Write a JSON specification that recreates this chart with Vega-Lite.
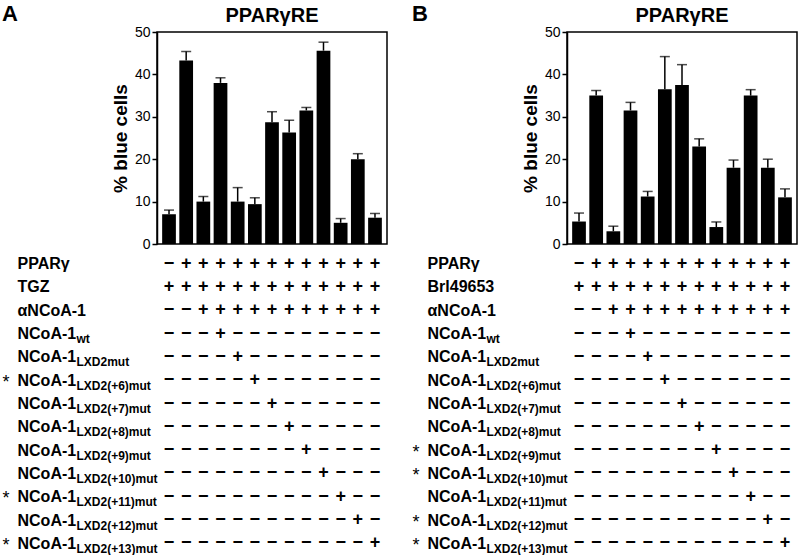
{
  "$schema": "https://vega.github.io/schema/vega-lite/v6.json",
  "background": "white",
  "padding": {"left": 2, "top": 3, "right": 2, "bottom": 0},
  "spacing": 24,
  "config": {"font": "Liberation Sans", "text": {"font": "Liberation Sans"}, "title": {"font": "Liberation Sans", "color": "black"}},
  "datasets": {
    "barsA": [
      {"lane": 1, "pct": 7, "hi": 8}, {"lane": 2, "pct": 43.3, "hi": 45.4}, {"lane": 3, "pct": 10, "hi": 11.2},
      {"lane": 4, "pct": 38, "hi": 39.2}, {"lane": 5, "pct": 10, "hi": 13.3}, {"lane": 6, "pct": 9.4, "hi": 10.9},
      {"lane": 7, "pct": 28.7, "hi": 31.2}, {"lane": 8, "pct": 26.3, "hi": 29.2}, {"lane": 9, "pct": 31.5, "hi": 32.2},
      {"lane": 10, "pct": 45.6, "hi": 47.6}, {"lane": 11, "pct": 5, "hi": 6}, {"lane": 12, "pct": 20, "hi": 21.3},
      {"lane": 13, "pct": 6.2, "hi": 7.2}
    ],
    "barsB": [
      {"lane": 1, "pct": 5.3, "hi": 7.3}, {"lane": 2, "pct": 35, "hi": 36.2}, {"lane": 3, "pct": 3, "hi": 4.2},
      {"lane": 4, "pct": 31.5, "hi": 33.4}, {"lane": 5, "pct": 11.2, "hi": 12.4}, {"lane": 6, "pct": 36.5, "hi": 44.2},
      {"lane": 7, "pct": 37.5, "hi": 42.3}, {"lane": 8, "pct": 23, "hi": 24.8}, {"lane": 9, "pct": 4, "hi": 5.2},
      {"lane": 10, "pct": 18, "hi": 19.8}, {"lane": 11, "pct": 35, "hi": 36.4}, {"lane": 12, "pct": 18, "hi": 20},
      {"lane": 13, "pct": 11, "hi": 13}
    ],
    "signs": [
      {"r":1,"c":1,"s":"−"},{"r":1,"c":2,"s":"+"},{"r":1,"c":3,"s":"+"},{"r":1,"c":4,"s":"+"},{"r":1,"c":5,"s":"+"},{"r":1,"c":6,"s":"+"},{"r":1,"c":7,"s":"+"},{"r":1,"c":8,"s":"+"},{"r":1,"c":9,"s":"+"},{"r":1,"c":10,"s":"+"},{"r":1,"c":11,"s":"+"},{"r":1,"c":12,"s":"+"},{"r":1,"c":13,"s":"+"},
      {"r":2,"c":1,"s":"+"},{"r":2,"c":2,"s":"+"},{"r":2,"c":3,"s":"+"},{"r":2,"c":4,"s":"+"},{"r":2,"c":5,"s":"+"},{"r":2,"c":6,"s":"+"},{"r":2,"c":7,"s":"+"},{"r":2,"c":8,"s":"+"},{"r":2,"c":9,"s":"+"},{"r":2,"c":10,"s":"+"},{"r":2,"c":11,"s":"+"},{"r":2,"c":12,"s":"+"},{"r":2,"c":13,"s":"+"},
      {"r":3,"c":1,"s":"−"},{"r":3,"c":2,"s":"−"},{"r":3,"c":3,"s":"+"},{"r":3,"c":4,"s":"+"},{"r":3,"c":5,"s":"+"},{"r":3,"c":6,"s":"+"},{"r":3,"c":7,"s":"+"},{"r":3,"c":8,"s":"+"},{"r":3,"c":9,"s":"+"},{"r":3,"c":10,"s":"+"},{"r":3,"c":11,"s":"+"},{"r":3,"c":12,"s":"+"},{"r":3,"c":13,"s":"+"},
      {"r":4,"c":1,"s":"−"},{"r":4,"c":2,"s":"−"},{"r":4,"c":3,"s":"−"},{"r":4,"c":4,"s":"+"},{"r":4,"c":5,"s":"−"},{"r":4,"c":6,"s":"−"},{"r":4,"c":7,"s":"−"},{"r":4,"c":8,"s":"−"},{"r":4,"c":9,"s":"−"},{"r":4,"c":10,"s":"−"},{"r":4,"c":11,"s":"−"},{"r":4,"c":12,"s":"−"},{"r":4,"c":13,"s":"−"},
      {"r":5,"c":1,"s":"−"},{"r":5,"c":2,"s":"−"},{"r":5,"c":3,"s":"−"},{"r":5,"c":4,"s":"−"},{"r":5,"c":5,"s":"+"},{"r":5,"c":6,"s":"−"},{"r":5,"c":7,"s":"−"},{"r":5,"c":8,"s":"−"},{"r":5,"c":9,"s":"−"},{"r":5,"c":10,"s":"−"},{"r":5,"c":11,"s":"−"},{"r":5,"c":12,"s":"−"},{"r":5,"c":13,"s":"−"},
      {"r":6,"c":1,"s":"−"},{"r":6,"c":2,"s":"−"},{"r":6,"c":3,"s":"−"},{"r":6,"c":4,"s":"−"},{"r":6,"c":5,"s":"−"},{"r":6,"c":6,"s":"+"},{"r":6,"c":7,"s":"−"},{"r":6,"c":8,"s":"−"},{"r":6,"c":9,"s":"−"},{"r":6,"c":10,"s":"−"},{"r":6,"c":11,"s":"−"},{"r":6,"c":12,"s":"−"},{"r":6,"c":13,"s":"−"},
      {"r":7,"c":1,"s":"−"},{"r":7,"c":2,"s":"−"},{"r":7,"c":3,"s":"−"},{"r":7,"c":4,"s":"−"},{"r":7,"c":5,"s":"−"},{"r":7,"c":6,"s":"−"},{"r":7,"c":7,"s":"+"},{"r":7,"c":8,"s":"−"},{"r":7,"c":9,"s":"−"},{"r":7,"c":10,"s":"−"},{"r":7,"c":11,"s":"−"},{"r":7,"c":12,"s":"−"},{"r":7,"c":13,"s":"−"},
      {"r":8,"c":1,"s":"−"},{"r":8,"c":2,"s":"−"},{"r":8,"c":3,"s":"−"},{"r":8,"c":4,"s":"−"},{"r":8,"c":5,"s":"−"},{"r":8,"c":6,"s":"−"},{"r":8,"c":7,"s":"−"},{"r":8,"c":8,"s":"+"},{"r":8,"c":9,"s":"−"},{"r":8,"c":10,"s":"−"},{"r":8,"c":11,"s":"−"},{"r":8,"c":12,"s":"−"},{"r":8,"c":13,"s":"−"},
      {"r":9,"c":1,"s":"−"},{"r":9,"c":2,"s":"−"},{"r":9,"c":3,"s":"−"},{"r":9,"c":4,"s":"−"},{"r":9,"c":5,"s":"−"},{"r":9,"c":6,"s":"−"},{"r":9,"c":7,"s":"−"},{"r":9,"c":8,"s":"−"},{"r":9,"c":9,"s":"+"},{"r":9,"c":10,"s":"−"},{"r":9,"c":11,"s":"−"},{"r":9,"c":12,"s":"−"},{"r":9,"c":13,"s":"−"},
      {"r":10,"c":1,"s":"−"},{"r":10,"c":2,"s":"−"},{"r":10,"c":3,"s":"−"},{"r":10,"c":4,"s":"−"},{"r":10,"c":5,"s":"−"},{"r":10,"c":6,"s":"−"},{"r":10,"c":7,"s":"−"},{"r":10,"c":8,"s":"−"},{"r":10,"c":9,"s":"−"},{"r":10,"c":10,"s":"+"},{"r":10,"c":11,"s":"−"},{"r":10,"c":12,"s":"−"},{"r":10,"c":13,"s":"−"},
      {"r":11,"c":1,"s":"−"},{"r":11,"c":2,"s":"−"},{"r":11,"c":3,"s":"−"},{"r":11,"c":4,"s":"−"},{"r":11,"c":5,"s":"−"},{"r":11,"c":6,"s":"−"},{"r":11,"c":7,"s":"−"},{"r":11,"c":8,"s":"−"},{"r":11,"c":9,"s":"−"},{"r":11,"c":10,"s":"−"},{"r":11,"c":11,"s":"+"},{"r":11,"c":12,"s":"−"},{"r":11,"c":13,"s":"−"},
      {"r":12,"c":1,"s":"−"},{"r":12,"c":2,"s":"−"},{"r":12,"c":3,"s":"−"},{"r":12,"c":4,"s":"−"},{"r":12,"c":5,"s":"−"},{"r":12,"c":6,"s":"−"},{"r":12,"c":7,"s":"−"},{"r":12,"c":8,"s":"−"},{"r":12,"c":9,"s":"−"},{"r":12,"c":10,"s":"−"},{"r":12,"c":11,"s":"−"},{"r":12,"c":12,"s":"+"},{"r":12,"c":13,"s":"−"},
      {"r":13,"c":1,"s":"−"},{"r":13,"c":2,"s":"−"},{"r":13,"c":3,"s":"−"},{"r":13,"c":4,"s":"−"},{"r":13,"c":5,"s":"−"},{"r":13,"c":6,"s":"−"},{"r":13,"c":7,"s":"−"},{"r":13,"c":8,"s":"−"},{"r":13,"c":9,"s":"−"},{"r":13,"c":10,"s":"−"},{"r":13,"c":11,"s":"−"},{"r":13,"c":12,"s":"−"},{"r":13,"c":13,"s":"+"}
    ]
  },
  "hconcat": [
    {
      "title": {"text": "A", "anchor": "start", "fontSize": 22, "fontWeight": "bold", "offset": -21, "color": "black"},
      "spacing": 8,
      "bounds": "flush",
      "vconcat": [
        {
          "width": 230, "height": 212,
          "title": {"text": "PPARγRE", "fontSize": 20, "fontWeight": "bold", "anchor": "middle", "offset": -1, "color": "black"},
          "view": {"stroke": "black", "strokeWidth": 1.5},
          "data": {"name": "barsA"},
          "encoding": {"x": {"field": "lane", "type": "ordinal", "axis": null, "scale": {"paddingInner": 0.2, "paddingOuter": 0.3}}},
          "layer": [
            {"mark": {"type": "bar", "color": "black"},
             "encoding": {"y": {"field": "pct", "type": "quantitative", "scale": {"domain": [0, 50]},
               "axis": {"title": "% blue cells", "titleFontSize": 19, "titleFontWeight": "bold", "titlePadding": 4, "titleColor": "black", "values": [0, 10, 20, 30, 40, 50], "labelFontSize": 14, "labelColor": "black", "labelPadding": 2, "tickSize": 5, "tickColor": "black", "tickWidth": 1.5, "domainColor": "black", "domainWidth": 1.5, "grid": false}}}},
            {"mark": {"type": "rule", "color": "black", "strokeWidth": 1.5},
             "encoding": {"y": {"field": "pct", "type": "quantitative"}, "y2": {"field": "hi"}}},
            {"mark": {"type": "tick", "color": "black", "thickness": 1.5, "size": 10},
             "encoding": {"y": {"field": "hi", "type": "quantitative"}}}
          ]
        },
        {
          "width": 230, "height": 303,
          "view": {"stroke": null},
          "data": {"name": "signs"},
          "encoding": {"x": {"field": "c", "type": "ordinal", "axis": null, "scale": {"type": "band", "paddingInner": 0.2, "paddingOuter": 0.3}}},
          "resolve": {"scale": {"y": "independent"}, "axis": {"y": "independent"}},
          "layer": [
            {"mark": {"type": "text", "fontSize": 18, "fontWeight": "bold", "color": "black", "baseline": "middle"},
             "encoding": {
               "y": {"field": "r", "type": "ordinal", "scale": {"type": "point", "padding": 0.5},
                 "axis": {"orient": "left", "domain": false, "ticks": false, "grid": false, "title": null, "labelAlign": "left", "labelBaseline": "middle", "labelPadding": 140, "labelFontSize": 16, "labelFontWeight": "bold", "labelColor": "black", "labelLimit": 300, "labelOverlap": false,
                   "labelExpr": "['PPARγ','TGZ','αNCoA-1','NCoA-1','NCoA-1','NCoA-1','NCoA-1','NCoA-1','NCoA-1','NCoA-1','NCoA-1','NCoA-1','NCoA-1'][datum.value-1]"}},
               "text": {"field": "s"}}},
            {"mark": {"type": "text", "text": ""},
             "encoding": {
               "y": {"field": "r", "type": "ordinal", "scale": {"type": "point", "padding": 0.5},
                 "axis": {"orient": "left", "domain": false, "ticks": false, "grid": false, "title": null, "labelAlign": "left", "labelBaseline": "middle", "labelPadding": 81, "labelOffset": 5, "labelFontSize": 12, "labelFontWeight": "bold", "labelColor": "black", "labelLimit": 300, "labelOverlap": false,
                   "labelExpr": "['','','','wt','LXD2mut','LXD2(+6)mut','LXD2(+7)mut','LXD2(+8)mut','LXD2(+9)mut','LXD2(+10)mut','LXD2(+11)mut','LXD2(+12)mut','LXD2(+13)mut'][datum.value-1]"}}}},
            {"mark": {"type": "text", "text": ""},
             "encoding": {
               "y": {"field": "r", "type": "ordinal", "scale": {"type": "point", "padding": 0.5},
                 "axis": {"orient": "left", "domain": false, "ticks": false, "grid": false, "title": null, "labelAlign": "left", "labelBaseline": "middle", "labelPadding": 155, "labelOffset": 2, "labelFontSize": 18, "labelColor": "black", "labelLimit": 300, "labelOverlap": false,
                   "labelExpr": "['','','','','','*','','','','','*','','*'][datum.value-1]"}}}}
          ]
        }
      ]
    },
    {
      "title": {"text": "B", "anchor": "start", "fontSize": 22, "fontWeight": "bold", "offset": -21, "color": "black"},
      "spacing": 8,
      "bounds": "flush",
      "vconcat": [
        {
          "width": 230, "height": 212,
          "title": {"text": "PPARγRE", "fontSize": 20, "fontWeight": "bold", "anchor": "middle", "offset": -1, "color": "black"},
          "view": {"stroke": "black", "strokeWidth": 1.5},
          "data": {"name": "barsB"},
          "encoding": {"x": {"field": "lane", "type": "ordinal", "axis": null, "scale": {"paddingInner": 0.2, "paddingOuter": 0.3}}},
          "layer": [
            {"mark": {"type": "bar", "color": "black"},
             "encoding": {"y": {"field": "pct", "type": "quantitative", "scale": {"domain": [0, 50]},
               "axis": {"title": "% blue cells", "titleFontSize": 19, "titleFontWeight": "bold", "titlePadding": 4, "titleColor": "black", "values": [0, 10, 20, 30, 40, 50], "labelFontSize": 14, "labelColor": "black", "labelPadding": 2, "tickSize": 5, "tickColor": "black", "tickWidth": 1.5, "domainColor": "black", "domainWidth": 1.5, "grid": false}}}},
            {"mark": {"type": "rule", "color": "black", "strokeWidth": 1.5},
             "encoding": {"y": {"field": "pct", "type": "quantitative"}, "y2": {"field": "hi"}}},
            {"mark": {"type": "tick", "color": "black", "thickness": 1.5, "size": 10},
             "encoding": {"y": {"field": "hi", "type": "quantitative"}}}
          ]
        },
        {
          "width": 230, "height": 303,
          "view": {"stroke": null},
          "data": {"name": "signs"},
          "encoding": {"x": {"field": "c", "type": "ordinal", "axis": null, "scale": {"type": "band", "paddingInner": 0.2, "paddingOuter": 0.3}}},
          "resolve": {"scale": {"y": "independent"}, "axis": {"y": "independent"}},
          "layer": [
            {"mark": {"type": "text", "fontSize": 18, "fontWeight": "bold", "color": "black", "baseline": "middle"},
             "encoding": {
               "y": {"field": "r", "type": "ordinal", "scale": {"type": "point", "padding": 0.5},
                 "axis": {"orient": "left", "domain": false, "ticks": false, "grid": false, "title": null, "labelAlign": "left", "labelBaseline": "middle", "labelPadding": 140, "labelFontSize": 16, "labelFontWeight": "bold", "labelColor": "black", "labelLimit": 300, "labelOverlap": false,
                   "labelExpr": "['PPARγ','Brl49653','αNCoA-1','NCoA-1','NCoA-1','NCoA-1','NCoA-1','NCoA-1','NCoA-1','NCoA-1','NCoA-1','NCoA-1','NCoA-1'][datum.value-1]"}},
               "text": {"field": "s"}}},
            {"mark": {"type": "text", "text": ""},
             "encoding": {
               "y": {"field": "r", "type": "ordinal", "scale": {"type": "point", "padding": 0.5},
                 "axis": {"orient": "left", "domain": false, "ticks": false, "grid": false, "title": null, "labelAlign": "left", "labelBaseline": "middle", "labelPadding": 81, "labelOffset": 5, "labelFontSize": 12, "labelFontWeight": "bold", "labelColor": "black", "labelLimit": 300, "labelOverlap": false,
                   "labelExpr": "['','','','wt','LXD2mut','LXD2(+6)mut','LXD2(+7)mut','LXD2(+8)mut','LXD2(+9)mut','LXD2(+10)mut','LXD2(+11)mut','LXD2(+12)mut','LXD2(+13)mut'][datum.value-1]"}}}},
            {"mark": {"type": "text", "text": ""},
             "encoding": {
               "y": {"field": "r", "type": "ordinal", "scale": {"type": "point", "padding": 0.5},
                 "axis": {"orient": "left", "domain": false, "ticks": false, "grid": false, "title": null, "labelAlign": "left", "labelBaseline": "middle", "labelPadding": 155, "labelOffset": 2, "labelFontSize": 18, "labelColor": "black", "labelLimit": 300, "labelOverlap": false,
                   "labelExpr": "['','','','','','','','','*','*','','*','*'][datum.value-1]"}}}}
          ]
        }
      ]
    }
  ]
}
